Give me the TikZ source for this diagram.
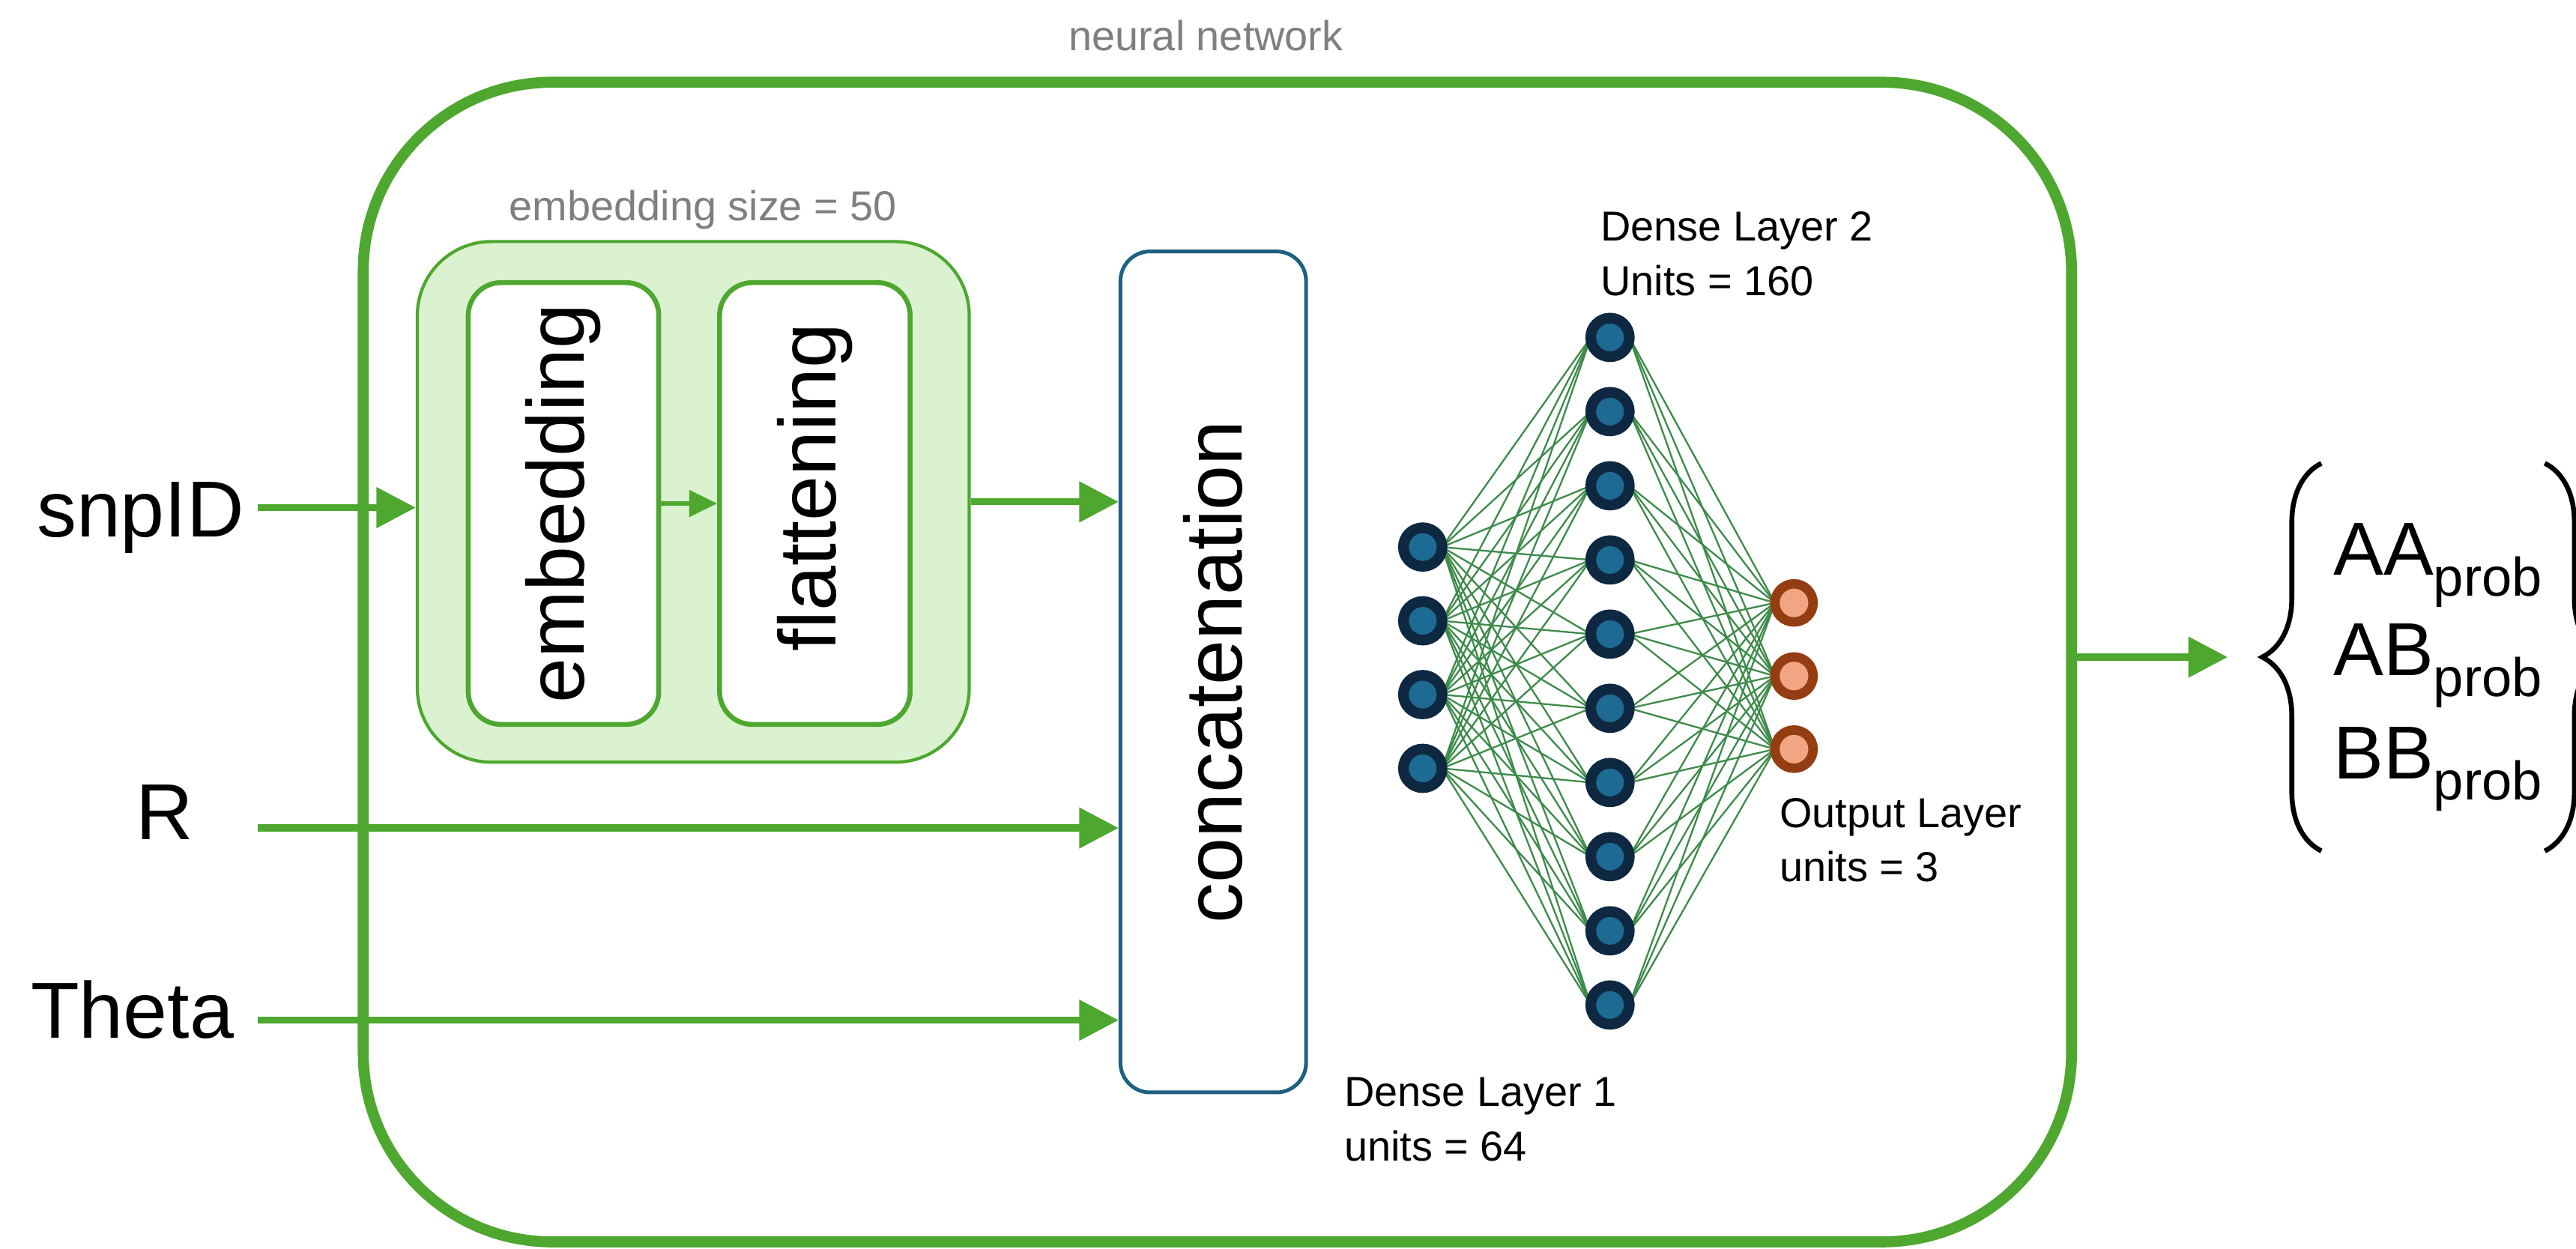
\documentclass[tikz,border=0pt]{standalone}
\usepackage{fontspec}
\setmainfont{Liberation Sans}
\usetikzlibrary{arrows.meta, positioning, backgrounds, decorations.pathreplacing}

\definecolor{nngreen}{HTML}{4EA72E}
\definecolor{embfill}{HTML}{DAF2D0}
\definecolor{concatblue}{HTML}{1F5F82}
\definecolor{neuronring}{HTML}{0E2841}
\definecolor{neuronfill}{HTML}{1D6A93}
\definecolor{outring}{HTML}{953D12}
\definecolor{outfill}{HTML}{F2A582}
\definecolor{linkgreen}{HTML}{3D8B4A}
\definecolor{labelgray}{HTML}{7F7F7F}

\newcommand{\probtext}[1]{#1\raisebox{-7.4pt}{\fontsize{18.8}{20}\selectfont prob}}

\tikzset{
  nnbox/.style={draw=nngreen, line width=3.8pt, rounded corners=2.3cm,
    minimum width=20.8cm, minimum height=14.12cm},
  embbox/.style={draw=nngreen, fill=embfill, line width=1.1pt, rounded corners=0.9cm,
    minimum width=6.72cm, minimum height=6.34cm},
  layerbox/.style={draw=nngreen, fill=white, line width=1.7pt, rounded corners=0.4cm,
    minimum width=2.32cm, minimum height=5.38cm, font=\fontsize{28}{34}\selectfont},
  concatbox/.style={draw=concatblue, line width=1.3pt, rounded corners=0.36cm,
    minimum width=2.26cm, minimum height=10.24cm, font=\fontsize{28}{34}\selectfont},
  neuron/.style={circle, draw=neuronring, fill=neuronfill, line width=0.13cm,
    minimum size=0.47cm, inner sep=0pt, outer sep=0pt},
  outneuron/.style={neuron, draw=outring, fill=outfill, line width=0.115cm, minimum size=0.465cm},
  link/.style={draw=linkgreen, line width=0.6pt},
  flow/.style={draw=nngreen, line width=2.4pt, -{Triangle[length=0.48cm, width=0.48cm]}},
  smallflow/.style={draw=nngreen, line width=1.4pt, -{Triangle[length=0.34cm, width=0.32cm]}},
  inputlabel/.style={font=\fontsize{27.5}{33}\selectfont, inner sep=0pt, anchor=base},
  outlabel/.style={font=\fontsize{26}{31}\selectfont, inner sep=0pt, anchor=base west},
  note/.style={font=\fontsize{14.5}{18.8}\selectfont, align=left, inner sep=0pt, anchor=north west},
  graynote/.style={font=\fontsize{14.5}{17}\selectfont, text=labelgray, inner sep=0pt, anchor=base},
  brace/.style={decorate, decoration={brace, amplitude=0.72cm, aspect=0.5}, line width=1.7pt},
}

\begin{document}
\begin{tikzpicture}[x=0.02cm, y=-0.02cm]
  \clip (0,0) rectangle (1568,760);

  \node[nnbox] (nn) at (741,403) {};
  \node[graynote] (nnlabel) at (734,31) {neural network};

  \node[embbox] (embwrap) at (422,305.5) {};
  \node[graynote] (embsize) at (428,134.5) {embedding size = 50};
  \node[layerbox] (emb)  at (343,306.5) {\rotatebox{90}{embedding}};
  \node[layerbox] (flat) at (496,306.5) {\rotatebox{90}{\hspace*{0.4cm}flattening}};
  \node[concatbox] (concat) at (738.5,409) {\rotatebox{90}{concatenation}};

  \node[inputlabel] (snpid) at (85.5,327) {snpID};
  \node[inputlabel] (rlabel) at (100,511) {R};
  \node[inputlabel] (theta) at (80.5,632) {Theta};
  \coordinate (snpstart)   at (157,309);
  \coordinate (rstart)     at (157,504);
  \coordinate (thetastart) at (157,621);

  \path
    (snpstart)      edge[flow]      (snpstart -| embwrap.west)
    (emb)           edge[smallflow] (flat)
    (embwrap.east)  edge[flow]      (embwrap.east -| concat.west)
    (rstart)        edge[flow]      (rstart -| concat.west)
    (thetastart)    edge[flow]      (thetastart -| concat.west);

  \foreach \i in {1,...,4}
    \node[neuron] (h1-\i) at (866,{333+44.9*(\i-1)}) {};
  \foreach \i in {1,...,10}
    \node[neuron] (h2-\i) at (980,{205.4+45.15*(\i-1)}) {};
  \foreach \i in {1,...,3}
    \node[outneuron] (o-\i) at (1092,{367+44.5*(\i-1)}) {};

  \begin{scope}[on background layer]
    \foreach \i in {1,...,4}
      \foreach \j in {1,...,10}
        \draw[link] (h1-\i.east) -- (h2-\j.west);
    \foreach \j in {1,...,10}
      \foreach \k in {1,...,3}
        \draw[link] (h2-\j.east) -- (o-\k.west);
  \end{scope}

  \node[note] (dense2) at (974,128.7) {Dense Layer 2\\Units = 160};
  \node[note] (dense1) at (818,655.7) {Dense Layer 1\\units = 64};
  \node[note] (outlayer) at (1083,485.5) {Output Layer\\units = 3};

  \coordinate (outtip) at (1356,400);
  \draw[flow] (outtip -| nn.east) -- (outtip);

  \coordinate (lbrace-top) at (1413,282);
  \coordinate (lbrace-bot) at (1413,518);
  \coordinate (rbrace-top) at (1549,282);
  \coordinate (rbrace-bot) at (1549,518);
  \draw[brace] (lbrace-bot) -- (lbrace-top);
  \draw[brace] (rbrace-top) -- (rbrace-bot);

  \node[outlabel] (aa) at (1420,350) {\probtext{AA}};
  \node[outlabel] (ab) at (1420,411) {\probtext{AB}};
  \node[outlabel] (bb) at (1420,474) {\probtext{BB}};
\end{tikzpicture}
\end{document}
